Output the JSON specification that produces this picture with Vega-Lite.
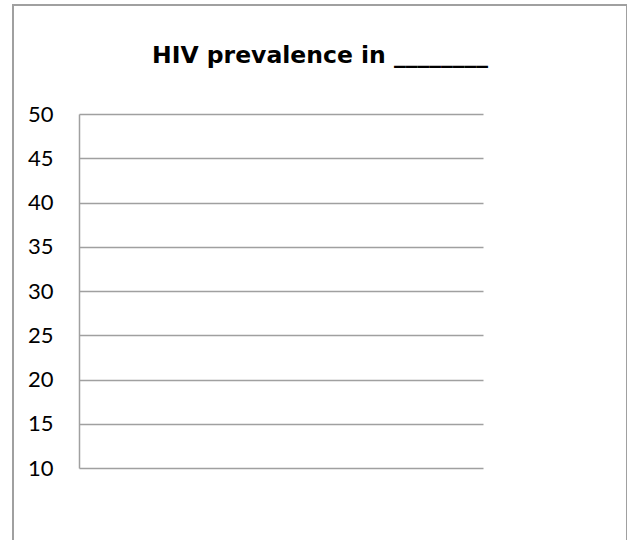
{
  "$schema": "https://vega.github.io/schema/vega-lite/v6.json",
  "autosize": "none",
  "padding": {"left": 13, "top": 5, "right": 0, "bottom": 0},
  "width": 614,
  "height": 560,
  "background": "white",
  "title": {
    "text": "HIV prevalence in ________",
    "font": "DejaVu Sans",
    "fontSize": 23.5,
    "fontWeight": "bold",
    "color": "#000000",
    "anchor": "middle",
    "frame": "group",
    "offset": -62
  },
  "data": {"values": [{"x": null, "prevalence": null}]},
  "mark": {"type": "line"},
  "encoding": {
    "x": {
      "field": "x",
      "type": "quantitative",
      "scale": {"domain": [0, 1], "range": [66, 470], "nice": false, "zero": false},
      "axis": null
    },
    "y": {
      "field": "prevalence",
      "type": "quantitative",
      "scale": {"domain": [10, 50], "range": [463, 109], "nice": false, "zero": false},
      "axis": {
        "title": null,
        "values": [10, 15, 20, 25, 30, 35, 40, 45, 50],
        "offset": -66,
        "ticks": false,
        "labelPadding": 26,
        "labelFont": "Lato",
        "labelFontSize": 22,
        "labelColor": "#000000",
        "domainColor": "#a0a0a0",
        "domainWidth": 1.5,
        "grid": true,
        "gridColor": "#a0a0a0",
        "gridWidth": 1.5
      }
    }
  },
  "config": {
    "view": {"stroke": "#a0a0a0", "strokeWidth": 2}
  }
}
